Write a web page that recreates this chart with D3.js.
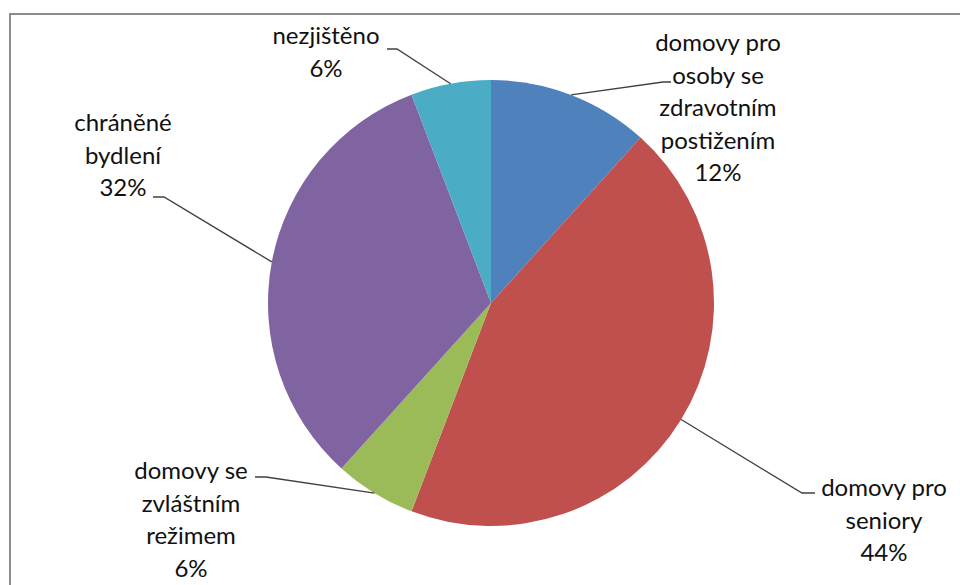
<!DOCTYPE html>
<html><head><meta charset="utf-8">
<script src="https://cdn.jsdelivr.net/npm/d3@7"></script>
<style>html,body{margin:0;padding:0;background:#fff;}svg{display:block;}</style>
</head><body>
<svg id="chart" width="960" height="585"></svg>
<script>
// ---- data ----
const categories = [
  ["domovy pro", "osoby se", "zdravotním", "postižením"],
  ["domovy pro", "seniory"],
  ["domovy se", "zvláštním", "režimem"],
  ["chráněné", "bydlení"],
  ["nezjištěno"]
];
const values = [11.7, 44.1, 5.9, 32.5, 5.8];
const percentLabels = ["12%", "44%", "6%", "32%", "6%"];
const colors = ["#4F81BD", "#C0504D", "#9BBB59", "#8064A2", "#4BACC6"];

// ---- layout (label placement) ----
const labelCenter = [[718, 51], [884, 496], [191, 479], [123, 131], [326, 44]];
const elbow = [[[663, 82], [671, 82]], [[802, 493], [815, 493]], [[266, 477], [255, 477]], [[164, 197], [153, 197]], [[397, 49], [387, 49]]];
const lineH = 32.5;

const svg = d3.select("#chart");
svg.append("rect").attr("x", 10).attr("y", 14).attr("width", 1000).attr("height", 700)
  .attr("fill", "#fff").attr("stroke", "#8c8c8c").attr("stroke-width", 2);

const cx = 491, cy = 303, r = 223;
const g = svg.append("g").attr("transform", `translate(${cx},${cy})`);
const pie = d3.pie().sort(null).value(d => d)(values);
const arc = d3.arc().innerRadius(0).outerRadius(r);

g.selectAll("path.slice").data(pie).join("path")
  .attr("class", "slice").attr("d", arc)
  .attr("fill", (d, i) => colors[i]).attr("stroke", "none");

// leader lines
pie.forEach((d, i) => {
  const a = (d.startAngle + d.endAngle) / 2;
  const p0 = [cx + r * Math.sin(a), cy - r * Math.cos(a)];
  const pts = [p0, elbow[i][0], elbow[i][1]];
  svg.append("path").attr("d", d3.line()(pts))
    .attr("fill", "none").attr("stroke", "#404040").attr("stroke-width", 1.3);
});

// labels
categories.forEach((lines, i) => {
  const t = svg.append("text").attr("text-anchor", "middle")
    .attr("font-family", "Lato, 'Open Sans', sans-serif").attr("font-size", 24)
    .attr("fill", "#111");
  const all = lines.concat([percentLabels[i]]);
  all.forEach((s, k) => {
    t.append("tspan").attr("x", labelCenter[i][0]).attr("y", labelCenter[i][1] + k * lineH).text(s);
  });
});
</script>
</body></html>
